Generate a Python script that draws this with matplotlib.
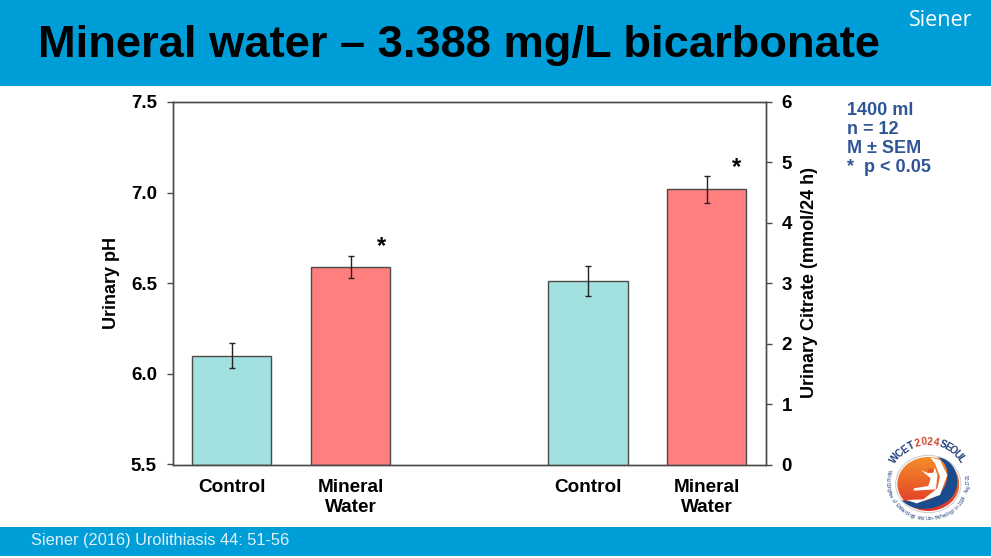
import numpy as np
import matplotlib
matplotlib.use("Agg")
import matplotlib.pyplot as plt
from matplotlib.patches import Rectangle, Ellipse, Polygon, PathPatch
from matplotlib.path import Path

plt.rcParams["font.family"] = ["Liberation Sans", "DejaVu Sans"]

W, H = 991, 558

labels = ["Control", "Mineral\nWater", "Control", "Mineral\nWater"]
positions = [0, 1, 3, 4]

ph_values = [6.10, 6.59]
ph_err = [0.07, 0.06]
citrate_values = [3.04, 4.555]
citrate_err = [0.245, 0.22]

ph_ticks = [5.5, 6.0, 6.5, 7.0, 7.5]
citrate_ticks = [0, 1, 2, 3, 4, 5, 6]

notes = "1400 ml\nn = 12\nM ± SEM\n*  p < 0.05"

BLUE = "#009ED9"
TEAL = "#A3E0E0"
RED = "#FF7F7F"
EDGE = "#4A4A4A"
NAVY = "#2F5597"


def fx(px):
    return px / W


def fy(py):
    return 1 - py / H


fig = plt.figure(figsize=(W / 100, H / 100), dpi=100, facecolor="white")

# slide bands
fig.add_artist(Rectangle((0, fy(85.5)), 1, 85.5 / H, transform=fig.transFigure, fc=BLUE, ec="none"))
fig.add_artist(Rectangle((0, fy(556)), 1, 29.5 / H, transform=fig.transFigure, fc=BLUE, ec="none"))

fig.text(fx(38), fy(45), "Mineral water – 3.388 mg/L bicarbonate", fontsize=32.6,
         fontweight="bold", color="black", va="center", ha="left")
fig.text(fx(972), fy(20), "Siener", fontsize=15.5, color="white", va="center", ha="right",
         family=["Open Sans", "DejaVu Sans"])
fig.text(fx(31), fy(540), "Siener (2016) Urolithiasis 44: 51-56", fontsize=11.8,
         color="#E3F0F6", va="center", ha="left")
fig.text(fx(847), fy(139), notes, fontsize=13, fontweight="bold", color=NAVY,
         va="center", ha="left", linespacing=1.14)

# main axes
ax = fig.add_axes([fx(172.5), fy(464.5), (766 - 172.5) / W, (464.5 - 102) / H])
ax.set_xlim(-0.5, 4.5)
ax.set_ylim(5.5, 7.5)
ax2 = ax.twinx()
ax2.set_ylim(0, 6)

err_style = dict(ecolor="#222222", elinewidth=1, capsize=2, capthick=1, ls="none")

for x, v, e, c in zip(positions[:2], ph_values, ph_err, [TEAL, RED]):
    ax.bar(x, v - 5.5, bottom=5.5, width=0.667, color=c, edgecolor=EDGE, linewidth=1)
    ax.errorbar(x, v, yerr=e, **err_style)

for x, v, e, c in zip(positions[2:], citrate_values, citrate_err, [TEAL, RED]):
    ax2.bar(x, v, width=0.667, color=c, edgecolor=EDGE, linewidth=1)
    ax2.errorbar(x, v, yerr=e, **err_style)

ax.text(1.26, 6.70, "*", fontsize=17, fontweight="bold", ha="center", va="center")
ax2.text(4.25, 4.92, "*", fontsize=17, fontweight="bold", ha="center", va="center")

ax.set_yticks(ph_ticks)
ax.set_yticklabels([f"{t:.1f}" for t in ph_ticks])
ax2.set_yticks(citrate_ticks)
ax.set_xticks(positions)
ax.set_xticklabels(labels, linespacing=1.25)
ax.tick_params(axis="x", length=0, pad=10.5, labelsize=13.7)
ax.tick_params(axis="y", length=4.2, width=1, color=EDGE, pad=7, labelsize=13.5)
ax2.tick_params(axis="y", length=4.2, width=1, color=EDGE, pad=7, labelsize=13.5)
for a in (ax, ax2):
    for lab in a.get_xticklabels() + a.get_yticklabels():
        lab.set_fontweight("bold")
    for s in a.spines.values():
        s.set_color(EDGE)
        s.set_linewidth(1)

fig.text(fx(111), fy(283), "Urinary pH", fontsize=13, fontweight="bold",
         rotation=90, ha="center", va="center")
fig.text(fx(810), fy(283), "Urinary Citrate (mmol/24 h)", fontsize=13, fontweight="bold",
         rotation=90, ha="center", va="center")

# conference logo, traced in a 393x330 box over the lower right corner
logo = fig.add_axes([fx(860), fy(530), 131 / W, 110 / H])
logo.set_xlim(0, 393)
logo.set_ylim(330, 0)
logo.axis("off")
disc = Ellipse((205, 192), 186, 162, fc="none", ec="none")
logo.add_patch(disc)
shade = np.linspace(0, 1, 64).reshape(-1, 1, 1)
top_c = np.array([[[0.96, 0.56, 0.16]]])
low_c = np.array([[[0.88, 0.20, 0.16]]])
img = logo.imshow(top_c * (1 - shade) + low_c * shade, extent=(112, 298, 273, 111), aspect="auto", zorder=1)
img.set_clip_path(disc)
logo.set_xlim(0, 393)
logo.set_ylim(330, 0)
ring = Ellipse((205, 192), 196, 172, fc="none", ec="#C9C9C9", lw=0.7, zorder=2)
logo.add_patch(ring)

wave = Path([(232, 112), (285, 115), (310, 185), (278, 228), (250, 268), (165, 285), (125, 240),
             (180, 255), (240, 240), (258, 190), (270, 150), (255, 125), (232, 112)],
            [Path.MOVETO] + [Path.CURVE4] * 12)
logo.add_patch(PathPatch(wave, fc="#1B4B8F", ec="none", zorder=3))
crescent = Polygon([(210, 112), (240, 120), (262, 165), (240, 225), (170, 250), (140, 240), (190, 238),
                    (232, 205), (240, 170), (225, 130)], fc="white", ec="none", zorder=4)
logo.add_patch(crescent)
figure = Polygon([(183, 150), (205, 160), (225, 145), (232, 165), (228, 208), (160, 212), (162, 205),
                  (205, 198), (212, 175)], fc="white", ec="none", zorder=4)
logo.add_patch(figure)
logo.add_patch(Ellipse((213, 152), 18, 14, fc="#E8551F", ec="none", zorder=5))

cx, cy, r = 204, 178, 112
for text, start, end, color in [("WCET", 146, 116, "#1E3F7A"), ("2024", 105, 78, "#D8402B"),
                                ("SEOUL", 68, 33, "#1E3F7A")]:
    for ch, ang in zip(text, np.linspace(start, end, len(text))):
        th = np.deg2rad(ang)
        logo.text(cx + 1.05 * r * np.cos(th), cy - r * np.sin(th), ch, fontsize=7.2, fontweight="bold", color=color,
                  rotation=ang - 90, ha="center", va="center", zorder=6)

small = "World Congress of Endourology and Uro-Technology in 2024 · Aug 17-21 ·"
for ch, ang in zip(small, np.linspace(165, 375, len(small))):
    th = np.deg2rad(ang)
    logo.text(cx + 122 * np.cos(th), cy + 6 - 112 * np.sin(th), ch, fontsize=3.4, color="#1E3F7A",
              rotation=ang + 90, ha="center", va="center", zorder=6)

fig.savefig("out.png", dpi=100)
plt.close(fig)
